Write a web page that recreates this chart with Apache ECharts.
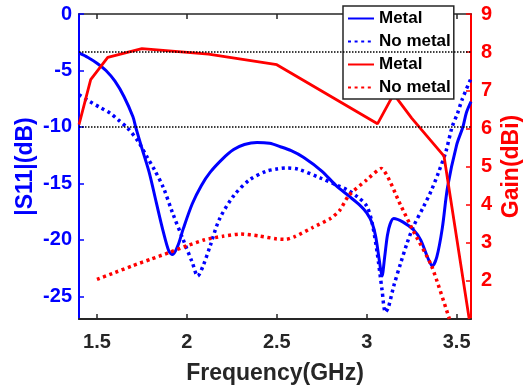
<!DOCTYPE html>
<html>
<head>
<meta charset="utf-8">
<script src="https://cdn.jsdelivr.net/npm/echarts@6/dist/echarts.min.js"></script>
<style>html,body{margin:0;padding:0;background:#fff}#c{width:531px;height:388px}</style>
</head>
<body>
<div id="c"></div>
<script>
// ---- data ----
var s11MetalFreq = [1.40,1.45,1.50,1.55,1.60,1.65,1.70,1.715,1.75,1.79,1.83,1.866,1.90,1.92,1.95,1.98,2.03,2.08,2.13,2.20,2.26,2.32,2.39,2.46,2.52,2.58,2.65,2.75,2.83,2.90,2.96,3.00,3.03,3.05,3.07,3.085,3.10,3.115,3.13,3.15,3.20,3.26,3.30,3.34,3.365,3.39,3.42,3.45,3.50,3.535,3.555,3.58];
var s11Metal     = [-3.45,-3.85,-4.36,-5.0,-5.95,-7.3,-9.1,-10.0,-11.9,-14.0,-16.7,-19.1,-21.0,-21.3,-20.5,-19.0,-16.8,-15.2,-14.0,-12.8,-12.0,-11.55,-11.37,-11.45,-11.75,-12.1,-12.7,-13.9,-15.2,-16.1,-16.9,-17.6,-18.5,-19.7,-21.8,-23.2,-21.5,-19.6,-18.6,-18.1,-18.4,-19.1,-20.0,-21.6,-22.3,-21.5,-19.0,-15.3,-11.6,-10.0,-8.7,-7.75];

var s11NoMetalFreq = [1.40,1.46,1.52,1.575,1.62,1.67,1.73,1.78,1.82,1.87,1.92,1.98,2.03,2.06,2.09,2.13,2.18,2.26,2.35,2.44,2.50,2.555,2.62,2.74,2.84,2.89,2.95,3.00,3.03,3.058,3.085,3.104,3.12,3.15,3.19,3.225,3.26,3.318,3.36,3.40,3.44,3.475,3.505,3.53,3.58];
var s11NoMetal     = [-7.15,-7.75,-8.3,-8.8,-9.4,-10.1,-11.3,-12.7,-13.8,-15.4,-17.6,-20.0,-22.0,-23.2,-22.3,-20.5,-18.2,-16.1,-14.66,-13.93,-13.72,-13.63,-13.75,-14.5,-15.2,-15.55,-16.2,-17.0,-18.5,-21.1,-24.4,-26.4,-26.0,-24.1,-22.0,-20.26,-18.8,-17.0,-15.6,-14.0,-12.2,-10.0,-8.8,-7.6,-5.7];

var gainMetalFreq = [1.40,1.465,1.56,1.75,2.12,2.50,3.06,3.15,3.25,3.43,3.57];
var gainMetal     = [6.1,7.28,7.86,8.09,7.95,7.67,6.12,6.9,6.27,5.27,1.0];

var gainNoMetalFreq = [1.50,1.60,1.70,1.80,1.90,2.00,2.10,2.20,2.30,2.40,2.50,2.55,2.60,2.70,2.80,2.85,2.90,3.00,3.08,3.19,3.26,3.36,3.46];
var gainNoMetal     = [2.04,2.22,2.40,2.57,2.74,2.92,3.08,3.17,3.23,3.18,3.10,3.09,3.16,3.40,3.64,3.85,4.24,4.65,4.95,3.97,3.30,2.40,1.0];

var seriesNames = ['Metal','No metal','Metal','No metal'];
var xTicks = [1.5,2,2.5,3,3.5];
var s11Ticks = [-25,-20,-15,-10,-5,0];
var refS11 = -10;
var refGain = 8;

function zip(a,b){ return a.map(function(v,i){ return [v,b[i]]; }); }

var BLUE = '#0000ff', RED = '#ff0000', DARK = '#262626';
var FONT = 'Liberation Sans';
var dots = [3,3.6];
var ids = ['S11 Metal','S11 No metal','Gain Metal','Gain No metal'];

var chart = echarts.init(document.getElementById('c'), null, {renderer:'canvas'});
chart.setOption({
  animation:false,
  backgroundColor:'#fff',
  grid:{left:79, right:60, top:14, bottom:69, containLabel:false, outerBoundsMode:'none'},
  legend:{
    orient:'vertical', left:343, top:6,
    data:ids,
    formatter:function(n){ return seriesNames[ids.indexOf(n)]; },
    itemWidth:26, itemHeight:14, itemGap:6,
    padding:[4,3,3,4],
    itemStyle:{opacity:0},
    backgroundColor:'#fff', borderColor:'#262626', borderWidth:1.5, borderRadius:0,
    textStyle:{fontFamily:FONT, fontWeight:'bold', fontSize:17, color:'#000'}
  },
  xAxis:[{
    type:'value', min:1.4, max:3.58, position:'bottom',
    name:'Frequency(GHz)', nameLocation:'middle', nameGap:43, nameMoveOverlap:false,
    nameTextStyle:{fontFamily:FONT, fontWeight:'bold', fontSize:23, color:DARK},
    axisLine:{show:true, onZero:false, lineStyle:{color:DARK, width:2}},
    axisTick:{show:true, inside:true, length:5, customValues:xTicks, lineStyle:{color:DARK, width:1.5}},
    axisLabel:{customValues:xTicks, fontFamily:FONT, fontWeight:'bold', fontSize:20, color:DARK, margin:13},
    splitLine:{show:false}
  },{
    type:'value', min:1.4, max:3.58, position:'top',
    axisLine:{show:true, onZero:false, lineStyle:{color:DARK, width:1.5}},
    axisTick:{show:true, inside:true, length:5, customValues:xTicks, lineStyle:{color:DARK, width:1.5}},
    axisLabel:{show:false},
    splitLine:{show:false}
  }],
  yAxis:[{
    type:'value', min:-27, max:0, position:'left',
    name:'|S11|(dB)', nameLocation:'middle', nameGap:42, nameRotate:90, nameMoveOverlap:false,
    nameTextStyle:{fontFamily:FONT, fontWeight:'bold', fontSize:23, color:BLUE},
    axisLine:{show:true, onZero:false, lineStyle:{color:BLUE, width:2}},
    axisTick:{show:true, inside:true, length:5, customValues:s11Ticks, lineStyle:{color:BLUE, width:1.5}},
    axisLabel:{customValues:s11Ticks, fontFamily:FONT, fontWeight:'bold', fontSize:20, color:BLUE, margin:7},
    splitLine:{show:false}
  },{
    type:'value', min:1, max:9, interval:1, position:'right',
    name:'Gain(dBi)', nameLocation:'middle', nameGap:29, nameRotate:90, nameMoveOverlap:false,
    nameTextStyle:{fontFamily:FONT, fontWeight:'bold', fontSize:23, color:RED},
    axisLine:{show:true, onZero:false, lineStyle:{color:RED, width:2}},
    axisTick:{show:true, inside:true, length:5, lineStyle:{color:RED, width:1.5}},
    axisLabel:{showMinLabel:false, fontFamily:FONT, fontWeight:'bold', fontSize:20, color:RED, margin:10},
    splitLine:{show:false}
  }],
  series:[{
    name:ids[0], type:'line', xAxisIndex:0, yAxisIndex:0,
    data:zip(s11MetalFreq,s11Metal), symbol:'none', smooth:0.3, z:3,
    lineStyle:{color:BLUE, width:3}, itemStyle:{color:BLUE},
    markLine:{silent:true, symbol:'none', label:{show:false},
      lineStyle:{color:'#000', type:[1.5,1.5], width:1.5},
      data:[{yAxis:refS11}]}
  },{
    name:ids[1], type:'line', xAxisIndex:0, yAxisIndex:0,
    data:zip(s11NoMetalFreq,s11NoMetal), symbol:'none', smooth:0.3, z:3,
    lineStyle:{color:BLUE, width:3.5, type:dots}, itemStyle:{color:BLUE}
  },{
    name:ids[2], type:'line', xAxisIndex:0, yAxisIndex:1,
    data:zip(gainMetalFreq,gainMetal), symbol:'none', smooth:false, z:3,
    lineStyle:{color:RED, width:2.8}, itemStyle:{color:RED},
    markLine:{silent:true, symbol:'none', label:{show:false},
      lineStyle:{color:'#000', type:[1.5,1.5], width:1.5},
      data:[{yAxis:refGain}]}
  },{
    name:ids[3], type:'line', xAxisIndex:0, yAxisIndex:1,
    data:zip(gainNoMetalFreq,gainNoMetal), symbol:'none', smooth:0.2, z:3,
    lineStyle:{color:RED, width:3.5, type:dots}, itemStyle:{color:RED}
  }]
});
</script>
</body>
</html>
